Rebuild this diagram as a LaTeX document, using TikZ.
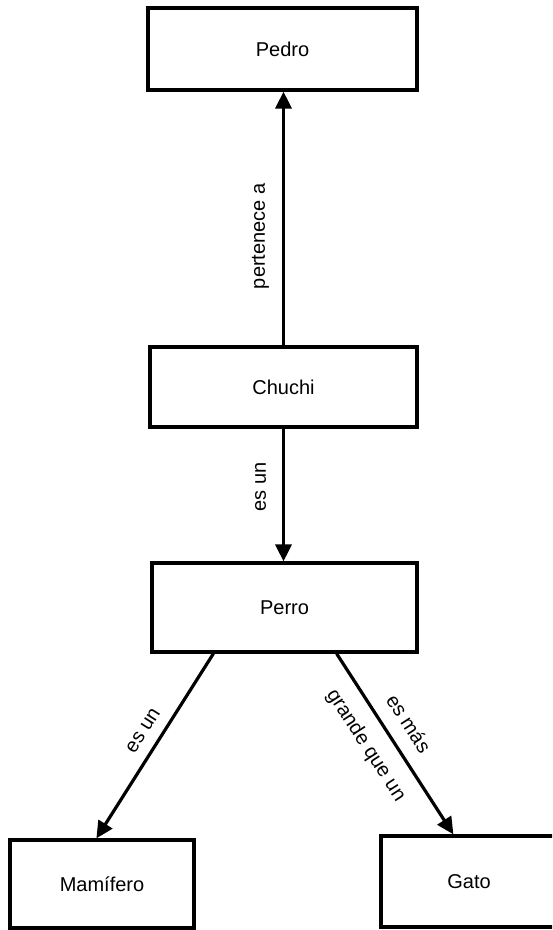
\documentclass[tikz,border=0pt]{standalone}
\usepackage{fontspec}
\setmainfont{Liberation Sans}
\usetikzlibrary{arrows.meta}
\begin{document}
\begin{tikzpicture}[x=0.5pt,y=-0.5pt,
  box/.style={draw, line width=1.6pt, rectangle, inner sep=0pt,
    font=\fontsize{10}{12}\selectfont},
  tip/.tip={Triangle[length=8.5pt,width=8pt]},
  rel/.style={line width=1.6pt, -tip},
  relback/.style={line width=1.6pt, tip-},
  lbl/.style={sloped, inner sep=0pt, text height=7pt, text depth=2pt,
    font=\fontsize{10}{12}\selectfont}]
  \clip (0,0) rectangle (552,930);

  % concepts
  \node[box, minimum width=134.5pt, minimum height=41pt]   (pedro)    at (282.5,49)  {Pedro};
  \node[box, minimum width=133.5pt, minimum height=40pt]   (chuchi)   at (283.5,387) {Chuchi};
  \node[box, minimum width=132.5pt, minimum height=44.5pt] (perro)    at (284.5,607.5) {Perro};
  \node[box, minimum width=92pt,    minimum height=44pt]   (mamifero) at (102,884)   {Mamífero};
  \node[box, minimum width=88pt,    minimum height=45.5pt] (gato)     at (469,881.5) {Gato};

  % relations
  \draw[rel] (chuchi.north) -- (chuchi.north |- pedro.south)
    node[lbl, pos=0.43, above=6.5pt] {pertenece a};
  % drawn upwards so that the label reads from bottom to top
  \draw[relback] (chuchi.south |- perro.north) -- (chuchi.south)
    node[lbl, pos=0.56, above=6pt] {es un};
  \draw[rel] ([xshift=31.5pt]perro.south west) -- ([xshift=44pt]mamifero.north west)
    node[lbl, pos=0.47, above=3.5pt] {es un};
  \draw[rel] ([xshift=-41pt]perro.south east) -- ([xshift=37pt]gato.north west)
    node[lbl, pos=0.456, above=5pt] {es más}
    node[lbl, pos=0.433, below=7.5pt] {grande que un};
\end{tikzpicture}
\end{document}
